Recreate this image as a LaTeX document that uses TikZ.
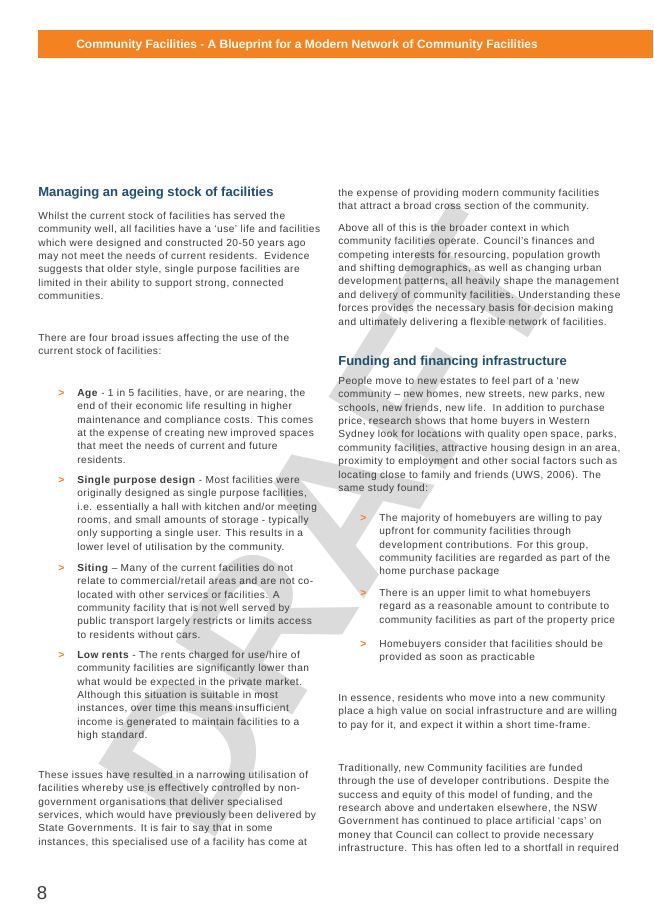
\documentclass[tikz,border=0pt]{standalone}
\usepackage{fontspec}
\setmainfont{Liberation Sans}
\newfontfamily\bodyfont[LetterSpace=5]{Liberation Sans}
\definecolor{orng}{HTML}{F58220}
\definecolor{hblue}{HTML}{1F4E6E}
\definecolor{body}{HTML}{3A3A3A}
\tikzset{
 txt/.style={anchor=north west,inner sep=0pt,align=left,text=body,font=\bodyfont\fontsize{7.6}{10.05}\selectfont},
 head/.style={anchor=north west,inner sep=0pt,text=hblue,font=\fontsize{9.8}{11}\selectfont\bfseries},
 gt/.style={anchor=north west,inner sep=0pt,text=orng,font=\fontsize{7.8}{10.05}\selectfont\bfseries},
}
\begin{document}
\begin{tikzpicture}[x=0.75pt,y=-0.75pt]
\useasboundingbox (0,0) rectangle (653,923);
\fill[white] (0,0) rectangle (653,923);
\node[rotate=58,text=black!14,font=\fontsize{150}{150}\selectfont\bfseries,inner sep=0pt] (wm) at (330,525) {DRAFT};
\fill[orng] (38,30) rectangle (653,58);
\node[inner sep=0pt,text=white,font=\fontsize{9}{10}\selectfont\bfseries] (title) at (307,45) {Community Facilities - A Blueprint for a Modern Network of Community Facilities};
% left column
\node[head] (h1) at (38,186) {\strut Managing an ageing stock of facilities};
\node[txt] (p1) at (38,209.6) {\strut Whilst the current stock of facilities has served the\\community well, all facilities have a ‘use’ life and facilities\\which were designed and constructed 20-50 years ago\\may not meet the needs of current residents.\ \ Evidence\\suggests that older style, single purpose facilities are\\limited in their ability to support strong, connected\\communities.};
\node[txt] (p2) at (38,331.6) {\strut There are four broad issues affecting the use of the\\current stock of facilities:};
\node[gt] (g1) at (58,386.6) {\strut >};
\node[txt] (b1) at (77,386.6) {\strut \textbf{Age} - 1 in 5 facilities, have, or are nearing, the\\end of their economic life resulting in higher\\maintenance and compliance costs. This comes\\at the expense of creating new improved spaces\\that meet the needs of current and future\\residents.};
\node[gt] (g2) at (58,473.6) {\strut >};
\node[txt] (b2) at (77,473.6) {\strut \textbf{Single purpose design} - Most facilities were\\originally designed as single purpose facilities,\\i.e. essentially a hall with kitchen and/or meeting\\rooms, and small amounts of storage - typically\\only supporting a single user. This results in a\\lower level of utilisation by the community.};
\node[gt] (g3) at (58,561.6) {\strut >};
\node[txt] (b3) at (77,561.6) {\strut \textbf{Siting} – Many of the current facilities do not\\relate to commercial/retail areas and are not co-\\located with other services or facilities. A\\community facility that is not well served by\\public transport largely restricts or limits access\\to residents without cars.};
\node[gt] (g4) at (58,648.6) {\strut >};
\node[txt] (b4) at (77,648.6) {\strut \textbf{Low rents} - The rents charged for use/hire of\\community facilities are significantly lower than\\what would be expected in the private market.\\Although this situation is suitable in most\\instances, over time this means insufficient\\income is generated to maintain facilities to a\\high standard.};
\node[txt] (p3) at (38,768.6) {\strut These issues have resulted in a narrowing utilisation of\\facilities whereby use is effectively controlled by non-\\government organisations that deliver specialised\\services, which would have previously been delivered by\\State Governments. It is fair to say that in some\\instances, this specialised use of a facility has come at};
% right column
\node[txt] (r1) at (338,186.6) {\strut the expense of providing modern community facilities\\that attract a broad cross section of the community.};
\node[txt] (r2) at (338,221.6) {\strut Above all of this is the broader context in which\\community facilities operate. Council’s finances and\\competing interests for resourcing, population growth\\and shifting demographics, as well as changing urban\\development patterns, all heavily shape the management\\and delivery of community facilities. Understanding these\\forces provides the necessary basis for decision making\\and ultimately delivering a flexible network of facilities.};
\node[head] (h2) at (338,355) {\strut Funding and financing infrastructure};
\node[txt] (r3) at (338,374.6) {\strut People move to new estates to feel part of a ‘new\\community – new homes, new streets, new parks, new\\schools, new friends, new life.\ \ In addition to purchase\\price, research shows that home buyers in Western\\Sydney look for locations with quality open space, parks,\\community facilities, attractive housing design in an area,\\proximity to employment and other social factors such as\\locating close to family and friends (UWS, 2006). The\\same study found:};
\node[gt] (g5) at (360,511.6) {\strut >};
\node[txt] (c1) at (379,511.6) {\strut The majority of homebuyers are willing to pay\\upfront for community facilities through\\development contributions. For this group,\\community facilities are regarded as part of the\\home purchase package};
\node[gt] (g6) at (360,586.6) {\strut >};
\node[txt] (c2) at (379,586.6) {\strut There is an upper limit to what homebuyers\\regard as a reasonable amount to contribute to\\community facilities as part of the property price};
\node[gt] (g7) at (360,637.6) {\strut >};
\node[txt] (c3) at (379,637.6) {\strut Homebuyers consider that facilities should be\\provided as soon as practicable};
\node[txt] (r4) at (338,691.6) {\strut In essence, residents who move into a new community\\place a high value on social infrastructure and are willing\\to pay for it, and expect it within a short time-frame.};
\node[txt] (r5) at (338,761.6) {\strut Traditionally, new Community facilities are funded\\through the use of developer contributions. Despite the\\success and equity of this model of funding, and the\\research above and undertaken elsewhere, the NSW\\Government has continued to place artificial ‘caps’ on\\money that Council can collect to provide necessary\\infrastructure. This has often led to a shortfall in required};
\node[inner sep=0pt,text=body,font=\fontsize{14}{14}\selectfont] (pg) at (42,893) {8};
\end{tikzpicture}
\end{document}
